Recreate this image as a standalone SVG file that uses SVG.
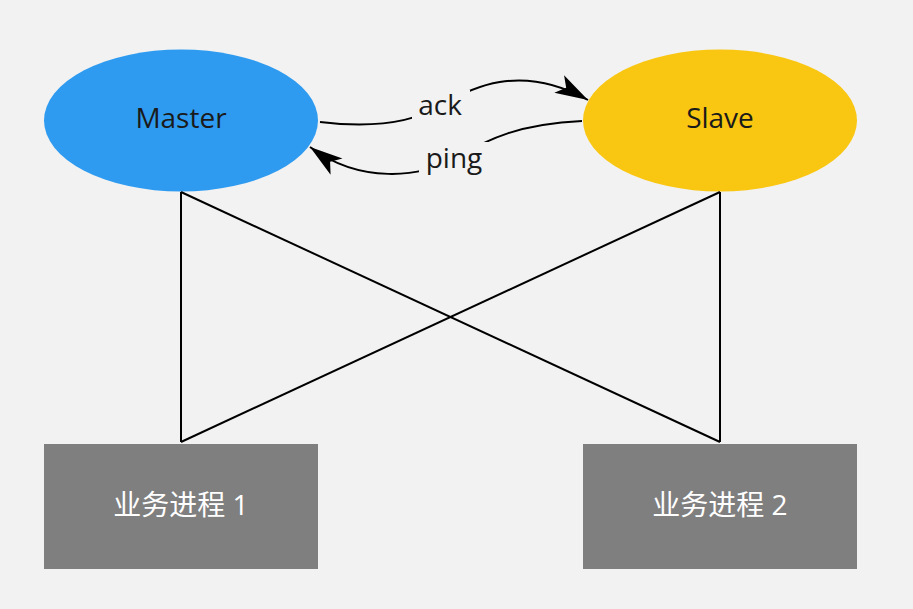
<svg xmlns="http://www.w3.org/2000/svg" width="913" height="609" viewBox="0 0 913 609">
<style>
.lbl{font-family:"Open Sans","Noto Sans CJK SC",sans-serif;font-size:28px;text-anchor:middle}
.dark{fill:#1a1a1a}
.white{fill:#ffffff}
.ln{stroke:#000;stroke-width:2;fill:none}
</style>
<defs>
<marker id="arr" markerUnits="userSpaceOnUse" markerWidth="36" markerHeight="28" viewBox="0 0 36 28" refX="33" refY="14" orient="auto">
<path d="M0,4 L33,14 L0,24 L8,14 Z" fill="#000"/>
</marker>
</defs>
<rect width="913" height="609" fill="#f2f2f2"/>
<g id="master">
<ellipse cx="181" cy="120.5" rx="137" ry="71" fill="#2e9bf0"/>
<text class="lbl dark" x="181" y="128">Master</text>
</g>
<g id="slave">
<ellipse cx="720" cy="120.5" rx="137" ry="71" fill="#f9c611"/>
<text class="lbl dark" x="720" y="128">Slave</text>
</g>
<g id="proc1">
<rect x="44" y="444" width="274" height="125" fill="#7f7f7f"/>
<text class="lbl white" x="181" y="515">业务进程 1</text>
</g>
<g id="proc2">
<rect x="583" y="444" width="274" height="125" fill="#7f7f7f"/>
<text class="lbl white" x="720" y="515">业务进程 2</text>
</g>
<g id="connectors">
<line class="ln" x1="181" y1="192" x2="181" y2="442"/>
<line class="ln" x1="181" y1="192" x2="720" y2="442"/>
<line class="ln" x1="720" y1="192" x2="181" y2="442"/>
<line class="ln" x1="720" y1="192" x2="720" y2="442"/>
<path id="ack" class="ln" d="M320,122 C370,128 410,124 440,106 C470,88 520,62 588,100" marker-end="url(#arr)"/>
<rect x="412" y="90" width="58" height="30" fill="#f2f2f2"/>
<text class="lbl dark" x="440" y="115">ack</text>
<path id="ping" class="ln" d="M582,121 C520,124 490,138 455,158 C420,178 360,184 310,147" marker-end="url(#arr)"/>
<rect x="419" y="142" width="70" height="36" fill="#f2f2f2"/>
<text class="lbl dark" x="454" y="168">ping</text>
</g>
</svg>
